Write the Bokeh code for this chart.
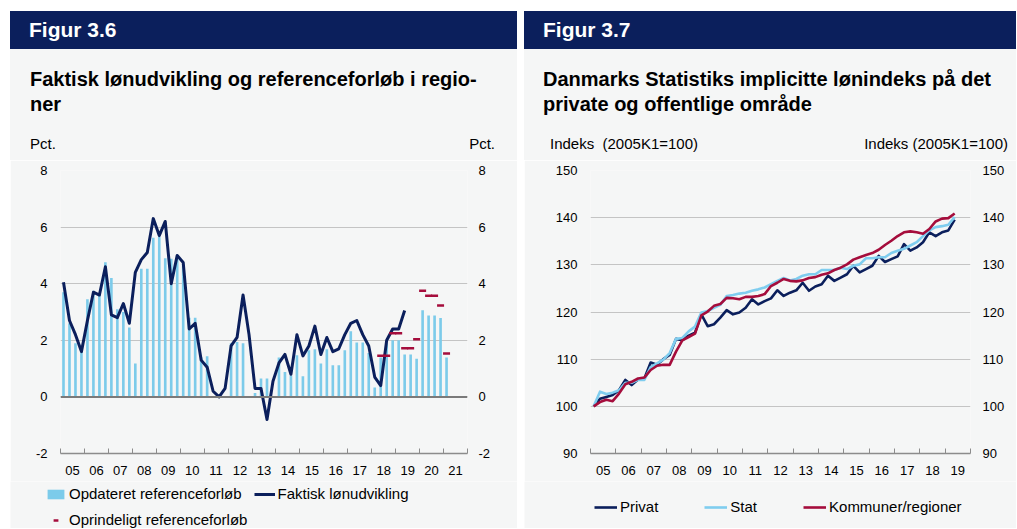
from bokeh.plotting import figure
from bokeh.models import (Range1d, LinearAxis, FixedTicker, Legend, LegendItem,
                          Div, Spacer, Grid, Span, ColumnDataSource)
from bokeh.layouts import row, column
from bokeh.embed import file_html
from bokeh.resources import INLINE

FONT = "Liberation Sans"
NAVY = "#0b1f5c"
LIGHT = "#7ccbea"
LIGHT_LINE = "#7fcdef"
RED = "#a50d3c"
BG = "#f5f6f6"
GRID = "#c4c4c4"
AXIS = "#8c8c8c"

# ---------------- data: Figur 3.6 (quarterly from 2005K1) ----------------
ref_updated = [3.7, 2.6, 1.9, 1.6, 3.45, 3.75, 3.6, 4.76, 4.2, 3.1, 3.0, 2.45,
               1.18, 4.53, 4.53, 5.62, 5.65, 4.9, 4.88, 4.88, 4.7, 2.8, 2.8, 1.4,
               1.44, 0.0, 0.0, 0.0, 1.9, 1.94, 1.9, 0.0, 0.14, 0.65, 0.65, 0.0,
               1.39, 0.88, 0.76, 1.47, 0.73, 1.65, 1.68, 1.18, 1.68, 1.12, 1.12, 1.65,
               2.32, 1.92, 1.92, 1.55, 0.33, 1.39, 1.9, 2.0, 2.0, 1.5, 1.5, 1.35,
               3.06, 2.88, 2.88, 2.79, 1.39]
actual_wage = [4.05, 2.7, 2.2, 1.6, 2.7, 3.7, 3.6, 4.6, 2.9, 2.8, 3.3, 2.6,
               4.4, 4.85, 5.1, 6.3, 5.7, 6.2, 4.0, 5.0, 4.75, 2.4, 2.6, 1.3,
               1.05, 0.2, 0.0, 0.3, 1.8, 2.1, 3.6, 2.2, 0.3, 0.3, -0.8, 0.55,
               1.2, 1.5, 0.8, 2.2, 1.45, 1.8, 2.5, 1.5, 2.1, 1.6, 1.7, 2.2,
               2.6, 2.7, 2.2, 1.8, 0.7, 0.4, 2.0, 2.4, 2.4, 3.05]
ref_original = [1.45, 1.45, 2.25, 2.25, 1.72, 1.72, 2.04, 3.75, 3.57, 3.57, 3.23, 1.53]
ref_original_first_quarter = 53  # 2018K2
left_year_labels = ["05", "06", "07", "08", "09", "10", "11", "12", "13",
                    "14", "15", "16", "17", "18", "19", "20", "21"]
left_y_ticks = [-2, 0, 2, 4, 6, 8]
left_y_labels = ["-2", "0", "2", "4", "6", "8"]

# ---------------- data: Figur 3.7 (index 2005K1=100) ----------------
privat = [100, 101.6, 102, 102.4, 103.4, 105.6, 104.5, 105.7, 105.9, 109.3, 108.8, 110,
          110.9, 114.3, 114, 115, 115.6, 119.5, 117, 117.4, 118.8, 120.4, 119.5, 119.9,
          120.9, 122.7, 121.6, 122.3, 122.9, 124.6, 123.4, 124.1, 124.6, 126.2, 124.5, 125.4,
          125.9, 127.7, 126.6, 127.3, 128.0, 129.8, 128.4, 129.1, 129.8, 131.9, 130.6, 131.2,
          131.8, 134.4, 133.0, 133.7, 134.8, 136.9, 136.1, 136.9, 137.3, 139.6]
stat = [100, 103.1, 102.6, 102.9, 103.4, 105.0, 105.0, 105.6, 105.6, 108.3, 109.1, 109.9,
        111.3, 114.3, 114.5, 115.9, 116.9, 119.9, 120.2, 120.9, 121.5, 123.4, 123.6, 123.9,
        124.1, 124.5, 124.8, 125.2, 125.9, 126.6, 127.2, 126.7, 127.0, 127.7, 128.0, 128.0,
        128.9, 128.9, 128.9, 129.4, 129.1, 129.8, 130.1, 131.4, 131.4, 131.6, 131.6, 132.5,
        133.0, 133.4, 134.1, 134.8, 136.1, 137.3, 138.0, 138.2, 138.5, 140.1]
kommuner = [100, 100.9, 101.4, 101.1, 102.7, 104.7, 105.2, 105.9, 106.1, 107.7, 108.6, 108.8,
            108.8, 111.6, 114.0, 114.7, 115.4, 119.3, 120.1, 121.3, 121.7, 123.0, 122.9, 122.7,
            123.2, 123.2, 123.4, 123.8, 125.5, 126.2, 127.0, 126.6, 126.5, 126.7, 127.2, 127.4,
            127.9, 128.2, 128.9, 129.4, 130.1, 131.1, 131.6, 132.1, 132.5, 133.2, 134.2, 135.1,
            136.1, 136.9, 137.1, 136.9, 136.6, 137.6, 139.2, 139.8, 139.9, 140.9]
right_year_labels = ["05", "06", "07", "08", "09", "10", "11", "12", "13",
                     "14", "15", "16", "17", "18", "19"]
right_y_ticks = [90, 100, 110, 120, 130, 140, 150]
right_y_labels = ["90", "100", "110", "120", "130", "140", "150"]

# series styles
S_BARS = dict(fill_color=LIGHT, line_color=None)
S_LINE_L = dict(line_color=NAVY, line_width=3, line_join="round")
S_DASH = dict(marker="dash", size=7, line_color=RED, line_width=2.5)
S_PRIVAT = dict(line_color=NAVY, line_width=2.6, line_join="round")
S_STAT = dict(line_color=LIGHT_LINE, line_width=2.6, line_join="round")
S_KOMM = dict(line_color=RED, line_width=2.6, line_join="round")


def qpos(i):
    return 2005 + (i + 0.5) / 4.0


def make_axes(p, y_ticks, y_labels, year_labels, first_year, std_left, std_right):
    for side, std in (("left", std_left), ("right", std_right)):
        ax = LinearAxis(ticker=FixedTicker(ticks=y_ticks),
                        major_label_overrides={t: s for t, s in zip(y_ticks, y_labels)},
                        axis_line_color=None,
                        major_tick_line_color=None, minor_tick_line_color=None,
                        major_label_standoff=std,
                        major_label_text_font=FONT, major_label_text_font_size="13px",
                        major_label_text_color="#000000")
        p.add_layout(ax, side)
    years = [first_year + k for k in range(len(year_labels) + 1)]
    mids = [y + 0.5 for y in years[:-1]]
    xa = LinearAxis(ticker=FixedTicker(ticks=mids, minor_ticks=years),
                    major_label_overrides={m: lab for m, lab in zip(mids, year_labels)},
                    major_tick_line_color=None, minor_tick_in=5, minor_tick_out=0,
                    minor_tick_line_color=AXIS, minor_tick_line_width=1,
                    axis_line_color=AXIS, axis_line_width=1.5,
                    major_label_standoff=6, major_label_text_font=FONT,
                    major_label_text_font_size="13px", major_label_text_color="#000000")
    p.add_layout(xa, "below")
    p.add_layout(Grid(dimension=1, ticker=FixedTicker(ticks=y_ticks[1:]),
                      grid_line_color=GRID, grid_line_width=1.2))


def legend_fig(w, h):
    return figure(width=w, height=h, x_range=Range1d(0, 1), y_range=Range1d(0, 1),
                  output_backend="svg", toolbar_location=None, x_axis_type=None,
                  y_axis_type=None, min_border=0, min_border_left=0, min_border_right=0,
                  min_border_top=0, min_border_bottom=0,
                  background_fill_color=BG, border_fill_color=BG, outline_line_color=None)


def add_legend(p, items, x, y, gw, spacing=0):
    p.add_layout(Legend(items=[LegendItem(label=lab, renderers=[r]) for r, lab in items],
                        location=(x, y), orientation="horizontal",
                        glyph_width=gw, glyph_height=12, label_height=12, label_width=10,
                        label_standoff=3, padding=0, margin=0, spacing=spacing,
                        border_line_alpha=0, background_fill_alpha=0,
                        label_text_font=FONT, label_text_font_size="15px",
                        label_text_color="#000000"))


def top_block(w, fig_title, title_lines, title_left, unit_left_text, unit_left_x,
              unit_right_text, unit_right_margin, h):
    html = (
        '<div style="position:relative;width:%dpx;height:%dpx;background:%s;'
        'font-family:\'Liberation Sans\',Arial,sans-serif;color:#000;">'
        '<div style="position:absolute;left:0;top:0;width:%dpx;height:38px;background:%s;'
        'color:#fff;font-weight:bold;font-size:21px;line-height:38px;padding-left:19px;'
        'box-sizing:border-box;">%s</div>'
        '<div style="position:absolute;left:%dpx;top:56px;font-weight:bold;font-size:20px;'
        'line-height:25px;white-space:nowrap;">%s</div>'
        '<div style="position:absolute;left:%dpx;top:124px;font-size:15px;line-height:18px;'
        'white-space:pre;">%s</div>'
        '<div style="position:absolute;right:%dpx;top:124px;font-size:15px;line-height:18px;'
        'white-space:pre;">%s</div>'
        '</div>'
    ) % (w, h, BG, w, NAVY, fig_title, title_left, "<br>".join(title_lines),
         unit_left_x, unit_left_text, unit_right_margin, unit_right_text)
    return Div(text=html, width=w, height=h, margin=0)


W1, W2 = 507, 492
TOP_H = 149
FIG_H = 321
LEG_H = 47

# ---------------- Figur 3.6 ----------------
p1 = figure(width=W1, height=FIG_H, x_range=Range1d(2005, 2022), y_range=Range1d(-2, 8),
            output_backend="svg", toolbar_location=None, x_axis_type=None, y_axis_type=None,
            min_border_left=50, min_border_right=50, min_border_top=10, min_border_bottom=28,
            background_fill_color=BG, border_fill_color=BG, outline_line_color=None)
make_axes(p1, left_y_ticks, left_y_labels, left_year_labels, 2005, 7, 5)
p1.add_layout(Span(location=0, dimension="width", line_color="#7a7a7a", line_width=2))

bars_src = ColumnDataSource(dict(x=[qpos(i) for i in range(len(ref_updated))], top=ref_updated))
p1.vbar(x="x", top="top", bottom=0, width=0.11, source=bars_src, **S_BARS)
line_src = ColumnDataSource(dict(x=[qpos(i) for i in range(len(actual_wage))], y=actual_wage))
p1.line(x="x", y="y", source=line_src, **S_LINE_L)
dash_src = ColumnDataSource(dict(
    x=[qpos(ref_original_first_quarter + i) for i in range(len(ref_original))], y=ref_original))
p1.scatter(x="x", y="y", source=dash_src, **S_DASH)

# legend strip: same sources, ranges chosen so the marks themselves stay out of view
l1 = legend_fig(W1, LEG_H)
lr_bars = l1.vbar(x="x", top="top", bottom=0, width=0.11, source=bars_src, **S_BARS)
lr_line = l1.line(x="x", y="y", source=line_src, **S_LINE_L)
lr_dash = l1.scatter(x="x", y="y", source=dash_src, **S_DASH)
add_legend(l1, [(lr_bars, "Opdateret referenceforløb"), (lr_line, "Faktisk lønudvikling")],
           35, 26, 21, spacing=12)
add_legend(l1, [(lr_dash, "Oprindeligt referenceforløb")], 35, 0, 21)

# ---------------- Figur 3.7 ----------------
p2 = figure(width=W2, height=FIG_H, x_range=Range1d(2005, 2020), y_range=Range1d(90, 150),
            output_backend="svg", toolbar_location=None, x_axis_type=None, y_axis_type=None,
            min_border_left=66, min_border_right=46, min_border_top=10, min_border_bottom=28,
            background_fill_color=BG, border_fill_color=BG, outline_line_color=None)
make_axes(p2, right_y_ticks, right_y_labels, right_year_labels, 2005, 7, 6)

xs = [qpos(i) for i in range(len(privat))]
p2.line(xs, privat, **S_PRIVAT)
p2.line(xs, stat, **S_STAT)
p2.line(xs, kommuner, **S_KOMM)

l2 = legend_fig(W2, LEG_H)
lr_p = l2.line(xs, privat, **S_PRIVAT)
lr_s = l2.line(xs, stat, **S_STAT)
lr_k = l2.line(xs, kommuner, **S_KOMM)
add_legend(l2, [(lr_p, "Privat"), (lr_s, "Stat"), (lr_k, "Kommuner/regioner")],
           70, 13, 23, spacing=46)

left = column(top_block(W1, "Figur 3.6",
                        ["Faktisk lønudvikling og referenceforløb i regio-", "ner"], 20,
                        "Pct.", 20, "Pct.", 22, TOP_H),
              p1, spacing=0)
right = column(top_block(W2, "Figur 3.7",
                         ["Danmarks Statistiks implicitte lønindeks på det",
                          "private og offentlige område"], 19,
                         "Indeks  (2005K1=100)", 26, "Indeks (2005K1=100)", 8, TOP_H),
               p2, spacing=0)
layout = column(Spacer(height=11, margin=0),
                row(Spacer(width=10, margin=0), left, Spacer(width=7, margin=0), right,
                    spacing=0),
                row(Spacer(width=10, margin=0), Div(text="", width=0, height=LEG_H, margin=0),
                    l1, Spacer(width=7, margin=0), l2, spacing=0),
                spacing=0)

open("out.html", "w").write(file_html(layout, INLINE))
